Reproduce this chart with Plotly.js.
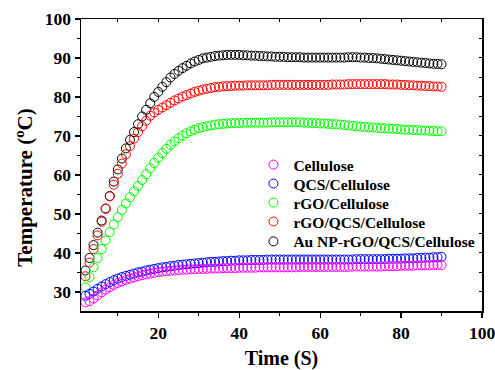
<!DOCTYPE html>
<html>
<head>
<meta charset="utf-8">
<script src="https://cdn.plot.ly/plotly-3.0.1.min.js"></script>
<style>html,body{margin:0;padding:0;background:#fff;}#chart{width:495px;height:370px;}</style>
</head>
<body>
<div id="chart"></div>
<script>
var seriesNames = ["Cellulose", "QCS/Cellulose", "rGO/Cellulose", "rGO/QCS/Cellulose", "Au NP-rGO/QCS/Cellulose"];
var seriesColors = ["#FF00FF", "#0000FF", "#00FF00", "#FF0000", "#000000"];

var time = [2,3,4,5,6,7,8,9,10,11,12,13,14,15,16,17,18,19,20,21,22,23,24,25,26,27,28,29,30,31,32,33,34,35,36,37,38,39,40,41,42,43,44,45,46,47,48,49,50,51,52,53,54,55,56,57,58,59,60,61,62,63,64,65,66,67,68,69,70,71,72,73,74,75,76,77,78,79,80,81,82,83,84,85,86,87,88,89,90];

var cellulose = [27.3,27.6,28.3,29.1,29.9,30.6,31.2,31.8,32.3,32.7,
33.1,33.4,33.7,34.0,34.3,34.5,34.7,34.9,35.1,35.2,
35.3,35.4,35.5,35.6,35.7,35.7,35.8,35.8,35.9,35.9,
35.9,36.0,36.0,36.0,36.1,36.1,36.1,36.1,36.2,36.2,
36.2,36.2,36.2,36.3,36.3,36.3,36.3,36.3,36.3,36.3,
36.3,36.3,36.3,36.4,36.4,36.4,36.4,36.4,36.4,36.4,
36.4,36.4,36.4,36.4,36.4,36.4,36.5,36.5,36.5,36.5,
36.5,36.5,36.5,36.5,36.6,36.6,36.6,36.6,36.7,36.7,
36.7,36.7,36.8,36.8,36.8,36.8,36.9,36.9,36.9];

var qcsCellulose = [29.0,29.5,30.1,30.8,31.4,32.0,32.5,33.0,33.4,33.8,
34.1,34.4,34.7,35.0,35.2,35.5,35.7,35.9,36.1,36.3,
36.4,36.6,36.7,36.9,37.0,37.1,37.2,37.3,37.4,37.5,
37.6,37.7,37.7,37.8,37.9,37.9,38.0,38.0,38.1,38.1,
38.1,38.2,38.2,38.2,38.2,38.3,38.3,38.3,38.3,38.3,
38.3,38.3,38.3,38.3,38.3,38.3,38.3,38.3,38.3,38.3,
38.3,38.3,38.3,38.3,38.3,38.3,38.3,38.4,38.4,38.4,
38.4,38.4,38.4,38.4,38.4,38.5,38.5,38.5,38.5,38.6,
38.6,38.6,38.7,38.7,38.8,38.8,38.9,38.9,39.0];

var rgoCellulose = [31.2,33.8,36.3,38.7,41.0,43.2,45.3,47.3,49.2,51.0,
52.7,54.3,55.8,57.2,58.7,60.2,61.7,63.1,64.4,65.6,
66.7,67.7,68.6,69.4,70.1,70.7,71.2,71.6,72.0,72.3,
72.5,72.7,72.9,73.0,73.1,73.2,73.3,73.3,73.3,73.4,
73.4,73.4,73.4,73.4,73.4,73.4,73.5,73.5,73.5,73.5,
73.5,73.5,73.5,73.5,73.4,73.4,73.3,73.3,73.2,73.2,
73.1,73.0,73.0,72.9,72.8,72.7,72.6,72.5,72.4,72.3,
72.2,72.2,72.1,72.0,72.0,71.9,71.8,71.8,71.7,71.6,
71.6,71.5,71.5,71.4,71.4,71.3,71.3,71.2,71.2];

var rgoQcsCellulose = [34.0,37.5,41.0,44.5,48.0,51.3,54.5,57.5,60.3,62.9,
65.3,67.4,69.3,71.0,72.5,73.9,75.2,76.0,76.7,77.3,
77.9,78.5,79.1,79.6,80.1,80.5,80.9,81.3,81.6,81.9,
82.1,82.3,82.5,82.6,82.7,82.8,82.8,82.9,82.9,82.9,
83.0,83.0,83.0,83.0,83.0,83.0,83.1,83.1,83.1,83.1,
83.1,83.1,83.1,83.1,83.1,83.1,83.1,83.1,83.1,83.1,
83.1,83.2,83.2,83.2,83.2,83.3,83.3,83.3,83.3,83.3,
83.3,83.3,83.3,83.3,83.3,83.2,83.2,83.2,83.1,83.1,
83.0,83.0,82.9,82.9,82.8,82.8,82.7,82.7,82.6];

var auNpCellulose = [35.5,38.7,42.0,45.2,48.3,51.4,54.6,58.3,61.4,64.2,
66.8,69.0,71.0,73.0,75.0,76.7,78.4,80.0,81.3,82.6,
83.8,85.0,85.9,86.7,87.4,88.0,88.6,89.1,89.5,89.9,
90.1,90.3,90.5,90.6,90.7,90.8,90.8,90.8,90.8,90.7,
90.7,90.6,90.6,90.5,90.5,90.4,90.4,90.3,90.3,90.3,
90.2,90.2,90.2,90.2,90.1,90.1,90.1,90.1,90.1,90.1,
90.1,90.1,90.1,90.1,90.1,90.2,90.2,90.2,90.1,90.1,
90.0,90.0,89.9,89.8,89.7,89.6,89.5,89.4,89.3,89.2,
89.1,89.0,88.9,88.8,88.7,88.6,88.5,88.5,88.4];

var seriesValues = [cellulose, qcsCellulose, rgoCellulose, rgoQcsCellulose, auNpCellulose];

var xTickVals = [20, 40, 60, 80, 100];
var yTickVals = [30, 40, 50, 60, 70, 80, 90, 100];

var serif = "Liberation Serif, Times New Roman, serif";
var legendIds = ["legend", "legend2", "legend3", "legend4", "legend5"];
var legendRowY = [0.5, 0.435, 0.37, 0.305, 0.237];

var traces = [];
for (var i = seriesNames.length - 1; i >= 0; i--) {
  traces.push({
    type: "scatter", mode: "markers", name: seriesNames[i], legend: legendIds[i],
    x: time, y: seriesValues[i],
    marker: {symbol: "circle-open", size: 9, color: seriesColors[i], line: {width: 1, color: seriesColors[i]}}
  });
}
traces.push({type: "scatter", mode: "markers", x: [null], y: [null], xaxis: "x2", yaxis: "y2", showlegend: false, hoverinfo: "skip"});

var layout = {
  width: 495, height: 370,
  margin: {l: 81, r: 13, t: 19, b: 59},
  paper_bgcolor: "#fff", plot_bgcolor: "#fff",
  showlegend: true,
  xaxis: {
    range: [0.9, 100], tickvals: xTickVals, ticktext: xTickVals.map(String), ticklabeloverflow: "allow",
    ticks: "outside", ticklen: 5, tickwidth: 1.2, tickcolor: "#000",
    minor: {tickvals: [10, 30, 50, 70, 90], ticks: "outside", ticklen: 3, tickcolor: "#000", tickwidth: 1},
    showline: true, linecolor: "#000", linewidth: 1.5, showgrid: false, zeroline: false,
    tickfont: {family: serif, size: 17.5, color: "#000", weight: "bold"},
    title: {text: "Time (S)", font: {family: serif, size: 20, color: "#000", weight: "bold"}, standoff: 16}
  },
  yaxis: {
    range: [25.1, 100], tickvals: yTickVals, ticktext: yTickVals.map(String), ticklabeloverflow: "allow",
    ticks: "outside", ticklen: 5, tickwidth: 1.2, tickcolor: "#000",
    minor: {tickvals: [35, 45, 55, 65, 75, 85, 95], ticks: "outside", ticklen: 3, tickcolor: "#000", tickwidth: 1},
    showline: true, linecolor: "#000", linewidth: 1.5, showgrid: false, zeroline: false,
    tickfont: {family: serif, size: 17.5, color: "#000", weight: "bold"}
  },
  xaxis2: {overlaying: "x", side: "top", matches: "x", range: [0.9, 100], tickvals: [10,20,30,40,50,60,70,80,90],
    ticks: "inside", ticklen: 3, tickcolor: "#000", showticklabels: false,
    showline: true, linecolor: "#000", linewidth: 1.5, showgrid: false, zeroline: false},
  yaxis2: {overlaying: "y", side: "right", matches: "y", range: [25.1, 100], tickvals: [30,35,40,45,50,55,60,65,70,75,80,85,90,95],
    ticks: "inside", ticklen: 3, tickcolor: "#000", showticklabels: false,
    showline: true, linecolor: "#000", linewidth: 1.5, showgrid: false, zeroline: false},
  annotations: [{
    text: "Temperature (<sup>o</sup>C)", textangle: -90, showarrow: false,
    xref: "paper", yref: "paper", x: -0.143, y: 0.421, xanchor: "center", yanchor: "middle",
    font: {family: serif, size: 21, color: "#000", weight: "bold"}
  }]
};
for (var k = 0; k < legendIds.length; k++) {
  layout[legendIds[k]] = {x: 0.43, y: legendRowY[k], xanchor: "left", yanchor: "middle",
    bgcolor: "rgba(0,0,0,0)", font: {family: serif, size: 15.5, color: "#000", weight: "bold"}, itemwidth: 30};
}

Plotly.newPlot("chart", traces, layout, {displayModeBar: false, staticPlot: true});
</script>
</body>
</html>
